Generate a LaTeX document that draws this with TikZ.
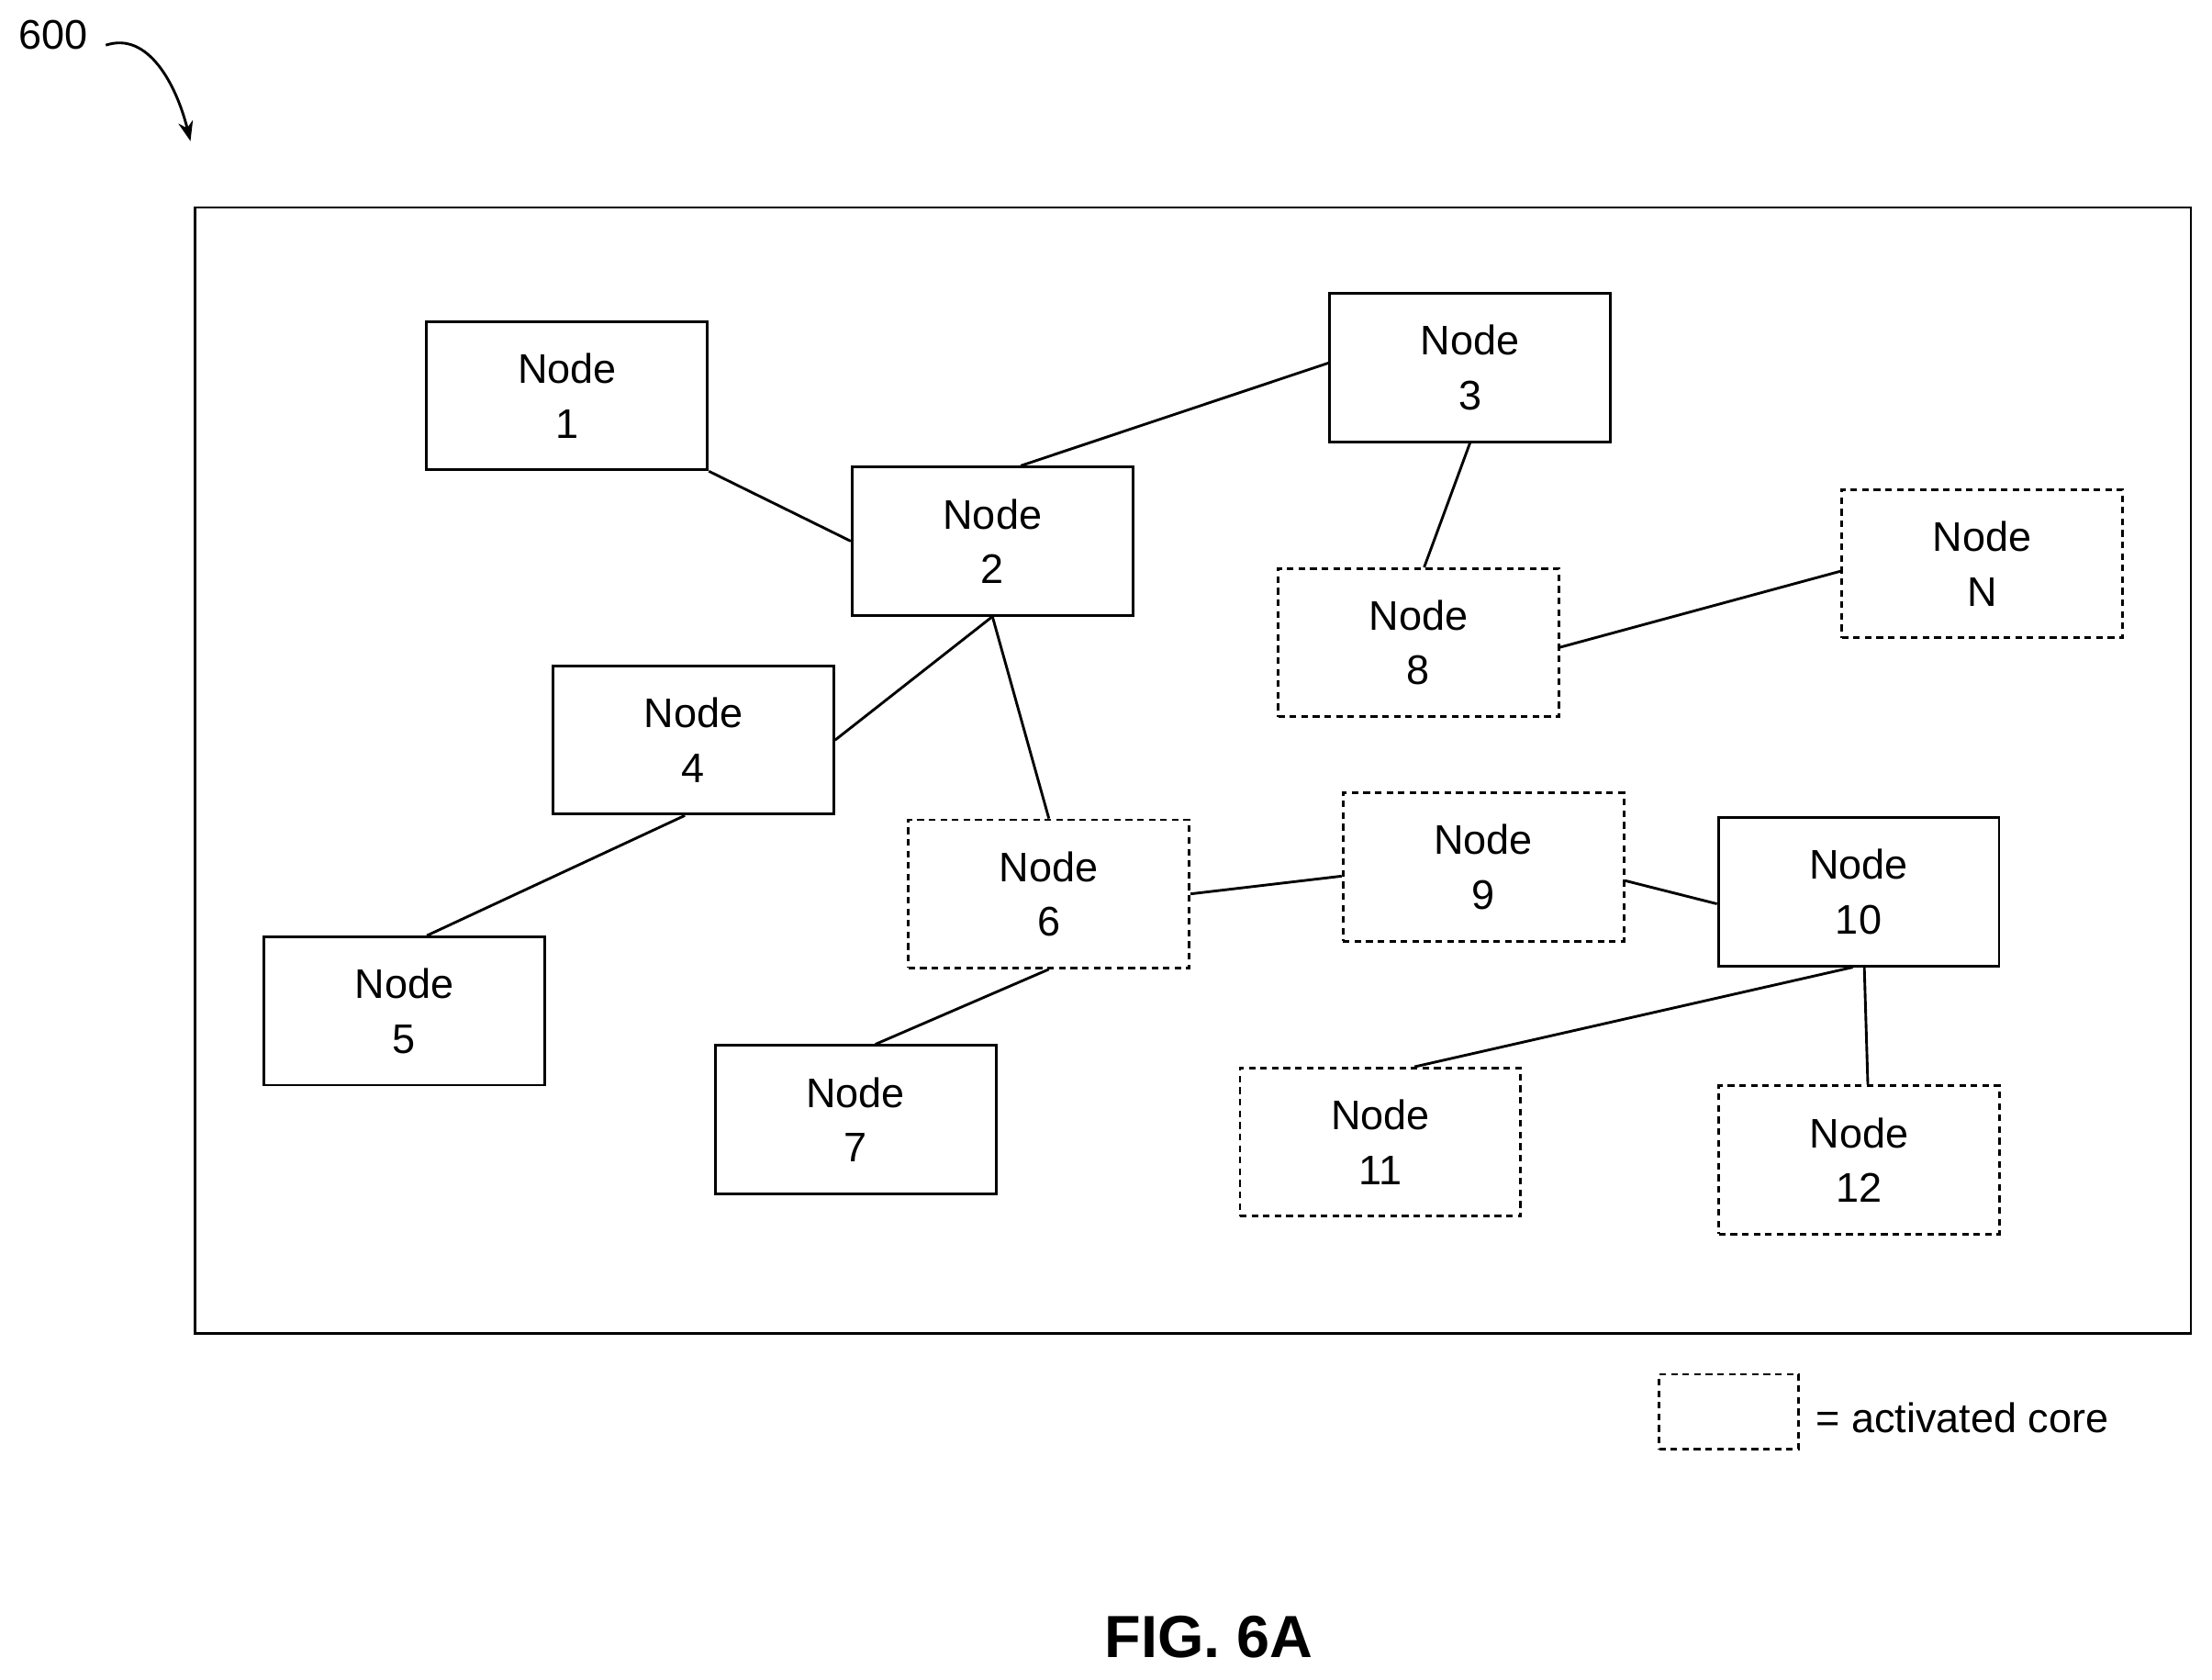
\documentclass[tikz,border=0pt]{standalone}
\usepackage{fontspec}
\setmainfont{Liberation Sans}
\usetikzlibrary{calc,arrows.meta}
\begin{document}
\begin{tikzpicture}[x=0.03cm,y=-0.03cm,
  box/.style={draw,line width=1.6pt,minimum width=5.97cm,minimum height=3.15cm,inner sep=0pt,align=center,font=\fontsize{25}{33}\selectfont},
  act/.style={box,dash pattern=on 4pt off 3pt},
  ln/.style={line width=1.6pt}]
\useasboundingbox (0,0) rectangle (1568,1190);
\draw[line width=1.6pt] (138,147) rectangle (1553,945);
\node[box] (n1) at (402,280.5) {Node\\1};
\node[box] (n2) at (703.5,383.5) {Node\\2};
\node[box] (n3) at (1042,260.5) {Node\\3};
\node[box] (n4) at (491.5,524.5) {Node\\4};
\node[box] (n5) at (286.5,716.5) {Node\\5};
\node[act] (n6) at (743.5,633.5) {Node\\6};
\node[box] (n7) at (606.5,793.5) {Node\\7};
\node[act] (n8) at (1005.5,455.5) {Node\\8};
\node[act] (nN) at (1405,399.5) {Node\\N};
\node[act] (n9) at (1051.5,614.5) {Node\\9};
\node[box] (n10) at (1317.5,632) {Node\\10};
\node[act] (n11) at (978.5,809.5) {Node\\11};
\node[act] (n12) at (1318,822) {Node\\12};
\node[draw,line width=1.6pt,dash pattern=on 4pt off 3pt,minimum width=2.97cm,minimum height=1.59cm,inner sep=0pt] (leg) at (1225.5,1000.5) {};
\node[anchor=west,font=\fontsize{25}{30}\selectfont] (legt) at (1283,1005) {= activated core};
\node[font=\bfseries\fontsize{36}{40}\selectfont] (fig) at (857,1160) {FIG. 6A};
\node[font=\fontsize{25}{30}\selectfont] (lbl) at (38,25) {600};
\coordinate (tip) at (135,100);
\draw[line width=1.6pt,-{Stealth[length=12pt,width=9pt]}] (75,32) .. controls (105,22) and (125,60) .. (tip);
\draw[ln] (n1.south east) -- (n2.west);
\draw[ln] ($(n2.north west)!0.6!(n2.north east)$) -- ($(n3.north west)!0.47!(n3.south west)$);
\draw[ln] (n2.south) -- (n4.east);
\draw[ln] (n2.south) -- (n6.north);
\draw[ln] ($(n4.south west)!0.47!(n4.south east)$) -- ($(n5.north west)!0.58!(n5.north east)$);
\draw[ln] (n6.south) -- ($(n7.north west)!0.57!(n7.north east)$);
\draw[ln] (n3.south) -- ($(n8.north west)!0.52!(n8.north east)$);
\draw[ln] ($(n8.north east)!0.53!(n8.south east)$) -- ($(nN.north west)!0.55!(nN.south west)$);
\draw[ln] (n6.east) -- ($(n9.north west)!0.56!(n9.south west)$);
\draw[ln] ($(n9.north east)!0.59!(n9.south east)$) -- ($(n10.north west)!0.58!(n10.south west)$);
\draw[ln] ($(n10.south west)!0.48!(n10.south east)$) -- ($(n11.north west)!0.62!(n11.north east)$);
\draw[ln] ($(n10.south west)!0.52!(n10.south east)$) -- ($(n12.north west)!0.53!(n12.north east)$);
\end{tikzpicture}
\end{document}
